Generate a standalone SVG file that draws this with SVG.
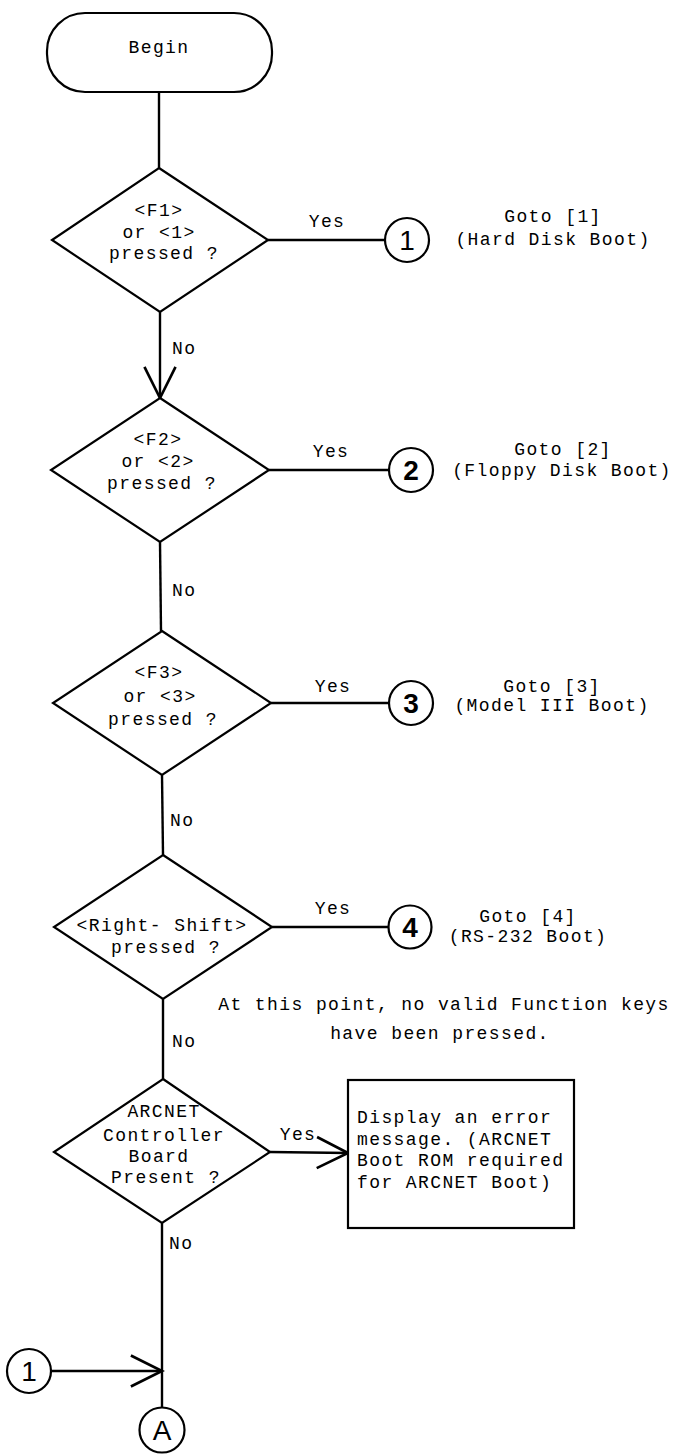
<svg xmlns="http://www.w3.org/2000/svg" width="676" height="1454" viewBox="0 0 676 1454">
<style>
.t{font-family:"Liberation Mono","DejaVu Sans Mono",monospace;font-size:18px;letter-spacing:1.4px;fill:#000}
.m{text-anchor:middle}
.s{fill:#fff;stroke:#000;stroke-width:2.2}
.ln{fill:none;stroke:#000;stroke-width:2.4}
.c{font-family:"Liberation Sans","Arial",sans-serif;font-size:28px;text-anchor:middle;fill:#000}
.b{font-weight:bold}
</style>
<defs>
<marker id="v" markerUnits="userSpaceOnUse" markerWidth="40" markerHeight="40" viewBox="-32 -18 36 36" refX="0" refY="0" orient="auto" overflow="visible">
<path d="M -28 -14 L 0 0 L -28 14" fill="none" stroke="#000" stroke-width="2.4"/>
</marker>
</defs>
<rect width="676" height="1454" fill="#fff"/>
<g id="connectors">
<line class="ln" x1="159" y1="92" x2="159" y2="168"/>
<line class="ln" x1="160" y1="312" x2="160" y2="398" marker-end="url(#v)"/>
<line class="ln" x1="160" y1="542" x2="161" y2="631"/>
<line class="ln" x1="162" y1="775" x2="163" y2="855"/>
<line class="ln" x1="163" y1="999" x2="163" y2="1080"/>
<line class="ln" x1="162" y1="1223" x2="162" y2="1408"/>
<line class="ln" x1="51" y1="1371" x2="162" y2="1371" marker-end="url(#v)"/>
<line class="ln" x1="268" y1="240" x2="385" y2="240"/>
<line class="ln" x1="269" y1="470" x2="389" y2="470"/>
<line class="ln" x1="271" y1="703" x2="389" y2="703"/>
<line class="ln" x1="272" y1="927" x2="389" y2="927"/>
<line class="ln" x1="270" y1="1152" x2="348" y2="1153" marker-end="url(#v)"/>
<text class="t" x="327" y="227" text-anchor="middle">Yes</text>
<text class="t" x="172" y="354">No</text>
<text class="t" x="331" y="457" text-anchor="middle">Yes</text>
<text class="t" x="172" y="596">No</text>
<text class="t" x="333" y="692" text-anchor="middle">Yes</text>
<text class="t" x="170" y="826">No</text>
<text class="t" x="333" y="914" text-anchor="middle">Yes</text>
<text class="t" x="172" y="1047">No</text>
<text class="t" x="298" y="1140" text-anchor="middle">Yes</text>
<text class="t" x="169" y="1249">No</text>
</g>
<g id="begin">
<rect class="s" x="47" y="13" width="225" height="79" rx="38" ry="38"/>
<text class="t m" x="159" y="53">Begin</text>
</g>
<g id="d1">
<polygon class="s" points="159,168 268,240 160,312 52,240"/>
<text class="t m" x="159" y="216">&lt;F1&gt;</text>
<text class="t m" x="159" y="238">or &lt;1&gt;</text>
<text class="t m" x="164" y="259">pressed ?</text>
</g>
<g id="c1">
<circle class="s" cx="407" cy="240" r="22"/>
<text class="c" x="407" y="250">1</text>
</g>
<g id="goto1">
<text class="t m" x="553" y="222">Goto [1]</text>
<text class="t m" x="553" y="245">(Hard Disk Boot)</text>
</g>
<g id="d2">
<polygon class="s" points="160,398 269,470 160,542 51,470"/>
<text class="t m" x="158" y="445">&lt;F2&gt;</text>
<text class="t m" x="158" y="467">or &lt;2&gt;</text>
<text class="t m" x="162" y="489">pressed ?</text>
</g>
<g id="c2">
<circle class="s" cx="411" cy="470" r="22"/>
<text class="c b" x="411" y="480">2</text>
</g>
<g id="goto2">
<text class="t m" x="563" y="455">Goto [2]</text>
<text class="t m" x="562" y="476">(Floppy Disk Boot)</text>
</g>
<g id="d3">
<polygon class="s" points="162,631 271,703 162,775 53,703"/>
<text class="t m" x="159" y="678">&lt;F3&gt;</text>
<text class="t m" x="160" y="702">or &lt;3&gt;</text>
<text class="t m" x="163" y="725">pressed ?</text>
</g>
<g id="c3">
<circle class="s" cx="411" cy="703" r="22"/>
<text class="c b" x="411" y="713">3</text>
</g>
<g id="goto3">
<text class="t m" x="552" y="692">Goto [3]</text>
<text class="t m" x="552" y="711">(Model III Boot)</text>
</g>
<g id="d4">
<polygon class="s" points="163,855 272,927 163,999 54,927"/>
<text class="t m" x="162" y="931">&lt;Right- Shift&gt;</text>
<text class="t m" x="166" y="953">pressed ?</text>
</g>
<g id="c4">
<circle class="s" cx="410" cy="927" r="21.5"/>
<text class="c b" x="410" y="937">4</text>
</g>
<g id="goto4">
<text class="t m" x="528" y="922">Goto [4]</text>
<text class="t m" x="528" y="942">(RS-232 Boot)</text>
</g>
<g id="note">
<text class="t m" x="444" y="1010">At this point, no valid Function keys</text>
<text class="t m" x="440" y="1039">have been pressed.</text>
</g>
<g id="d5">
<polygon class="s" points="163,1079 270,1152 162,1223 54,1152"/>
<text class="t m" x="164" y="1117">ARCNET</text>
<text class="t m" x="164" y="1141">Controller</text>
<text class="t m" x="159" y="1162">Board</text>
<text class="t m" x="166" y="1183">Present ?</text>
</g>
<g id="errbox">
<rect class="s" x="348" y="1080" width="226" height="148"/>
<text class="t" x="357" y="1123">Display an error</text>
<text class="t" x="357" y="1145">message. (ARCNET</text>
<text class="t" x="357" y="1166">Boot ROM required</text>
<text class="t" x="357" y="1188">for ARCNET Boot)</text>
</g>
<g id="c1b">
<circle class="s" cx="29" cy="1371" r="22"/>
<text class="c" x="29" y="1381">1</text>
</g>
<g id="cA">
<circle class="s" cx="162" cy="1430" r="22.5"/>
<text class="c" x="162" y="1440">A</text>
</g>
</svg>
